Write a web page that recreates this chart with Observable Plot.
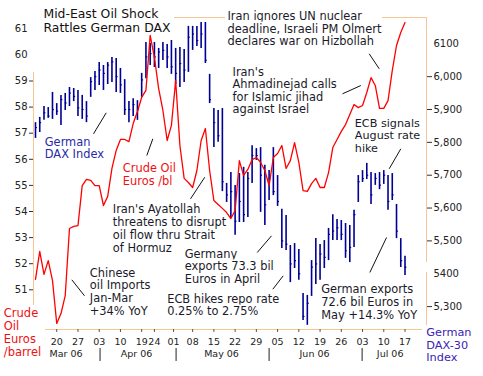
<!DOCTYPE html>
<html><head><meta charset="utf-8">
<script src="https://cdn.jsdelivr.net/npm/d3@7"></script>
<script src="https://cdn.jsdelivr.net/npm/@observablehq/plot@0.6"></script>
<style>
html,body{margin:0;padding:0;background:#fff;}
#chart svg{display:block;}
</style></head><body><div id="chart"></div>
<script>
// Trading-day index: 0 = 13 Mar 2006 ... 87 = 17 Jul 2006
const oilEuro = [
51.40,52.47,51.59,52.12,51.36,49.71,50.09,50.78,53.35,53.43,
53.46,54.99,55.23,55.19,54.99,54.99,54.23,54.58,55.65,56.34,
56.76,56.76,56.68,57.37,57.83,58.37,58.64,60.75,59.90,58.71,
57.87,56.72,57.30,59.02,56.53,55.27,55.11,54.92,55.57,56.72,
57.18,55.57,54.42,54.27,54.12,53.96,53.73,54.04,55.95,55.38,
55.61,55.99,56.07,55.88,55.57,54.99,56.07,56.22,56.53,55.65,
55.95,56.64,55.88,54.80,54.77,55.07,55.27,54.92,54.92,55.49,
56.45,56.76,57.07,57.33,57.72,58.10,57.98,58.06,58.56,59.13,
58.83,57.95,57.95,58.25,59.40,60.36,60.86,61.24];

const daxHigh = [
5860,5876,5909,5906,5952,5918,5943,5949,5967,5964,
5958,5943,5924,5997,6016,6043,6034,6043,6058,6055,
6025,5991,5924,5933,5927,6010,6104,6101,6104,6086,
6104,6098,6110,6086,6089,6083,6153,6153,6153,6165,
6165,6007,5903,5897,5903,5675,5708,5669,5705,5724,
5708,5790,5781,5784,5730,5714,5784,5699,5596,5577,
5486,5492,5474,5340,5334,5440,5507,5489,5501,5538,
5580,5565,5562,5553,5547,5593,5699,5714,5736,5708,
5705,5708,5714,5699,5705,5611,5507,5453];

const daxLow = [
5812,5830,5867,5873,5870,5882,5851,5897,5909,5924,
5879,5870,5860,5937,5958,5973,5958,5976,5982,5952,
5949,5882,5860,5879,5867,5937,5994,6034,6028,6025,
6049,6025,6007,5976,5967,5982,6013,6080,6092,6086,
6040,5918,5784,5800,5650,5617,5568,5517,5556,5556,
5571,5675,5745,5587,5547,5623,5638,5605,5477,5471,
5373,5416,5380,5258,5243,5331,5367,5380,5416,5440,
5501,5501,5501,5447,5434,5480,5617,5678,5687,5611,
5669,5656,5672,5593,5623,5507,5419,5395];

const daxClose = [
5845,5860,5890,5880,5900,5895,5930,5920,5950,5940,
5905,5900,5880,5985,6000,6020,6010,6035,6045,6000,
5975,5900,5900,5915,5900,5990,6060,6070,6060,6075,
6080,6060,6030,6010,6040,6020,6120,6130,6110,6130,
6050,5930,5860,5820,5680,5640,5650,5560,5620,5580,
5690,5760,5760,5700,5610,5690,5650,5620,5500,5490,
5430,5440,5400,5270,5310,5420,5430,5460,5450,5520,
5530,5540,5520,5470,5480,5580,5680,5690,5700,5640,
5690,5670,5700,5620,5640,5530,5440,5420];

const xTickDays   = [5,10,15,20,25,28,32.5,37,42,47,52,57,62,67,72,77,82,87];
const xTickLabels = ["20","27","03","10","19","24","01","08","15","22","29","05","12","19","26","03","10","17"];
const monthLabels  = ["Mar 06","Apr 06","May 06","Jun 06","Jul 06"];
const monthCenters = [7.2,23.8,43.8,65.7,83.5];
const monthBreaks  = [15.2,33.1,55.0,76.9];

const oilTicks      = [51,52,53,54,55,56,57,58,59,60,61];
const oilDashTicks  = [51,52,53,54,55,56,57,58,59];
const daxTicks      = [5300,5400,5500,5600,5700,5800,5900,6000,6100];
const daxTickLabels = ["5,300","5400","5,500","5,600","5,700","5,800","5,900","6,000","6100"];
const daxDashTicks  = [5300,5500,5600,5700,5800,5900,6000];

const notes = [
 {x:1.88,  y:60.896, text:"Mid-East Oil Shock\nRattles German DAX", size:12.4, lh:14, fill:"#111"},
 {x:45.21, y:60.379, text:"Iran ignores UN nuclear\ndeadline, Israeli PM Olmert\ndeclares war on Hizbollah", size:11.4, lh:12.5, fill:"#1a1a2a"},
 {x:46.39, y:57.774, text:"Iran's\nAhmadinejad calls\nfor Islamic jihad\nagainst Israel", size:11.4, lh:12.5, fill:"#1a1a2a"},
 {x:75.18, y:56.279, text:"ECB signals\nAugust rate\nhike", size:11.2, lh:12.6, fill:"#1a1a2a"},
 {x:2.19,  y:56.042, text:"German\nDAX Index", size:11.4, lh:12.7, fill:"#2a2aa8"},
 {x:20.56, y:55.023, text:"Crude Oil\nEuros /bl", size:11.4, lh:12.6, fill:"#f01010"},
 {x:18.20, y:52.448, text:"Iran's Ayatollah\nthreatens to disrupt\noil flow thru Strait\nof Hormuz", size:11.4, lh:12.9, fill:"#1a1a2a"},
 {x:35.15, y:51.279, text:"Germany\nexports 73.3 bil\nEuros in April", size:11.4, lh:12.5, fill:"#1a1a2a"},
 {x:31.01, y:50.027, text:"ECB hikes repo rate\n0.25% to 2.75%", size:11.4, lh:12.7, fill:"#1a1a2a"},
 {x:12.79, y:50.042, text:"Chinese\noil Imports\nJan-Mar\n+34% YoY", size:11.4, lh:12.7, fill:"#1a1a2a"},
 {x:67.27, y:49.889, text:"German exports\n72.6 bil Euros in\nMay +14.3% YoY", size:11.4, lh:12.8, fill:"#1a1a2a"},
 {x:-7.46, y:48.482, text:"Crude\nOil\nEuros\n/barrel", size:11.5, lh:12.8, fill:"#f01010"},
 {x:92.0,  y:48.253, text:"German\nDAX-30\nIndex", size:11.3, lh:12.5, fill:"#3b22b5"}
];

const pointers = [
 {x1:78.57,y1:60.042,x2:80.93,y2:59.467},
 {x1:72.29,y1:58.509,x2:76.60,y2:58.827},
 {x1:86.01,y1:56.402,x2:83.28,y2:55.636},
 {x1:13.66,y1:56.977,x2:16.65,y2:57.781},
 {x1:26.21,y1:56.145,x2:27.62,y2:56.785},
 {x1:36.50,y1:54.486,x2:39.86,y2:55.314},
 {x1:52.20,y1:52.429,x2:55.57,y2:53.069},
 {x1:55.88,y1:51.023,x2:58.32,y2:51.536},
 {x1:8.55, y1:51.383,x2:11.54,y2:50.770},
 {x1:78.72,y1:51.663,x2:82.65,y2:53.004}
];

// DAX mapped onto the oil (left) axis
const toOil = v => 60.425 - (6100 - v) * 0.012586;

const xMin = -0.47, xMax = 92.06, yMin = 49.479, yMax = 61.433;
const frameColor = "#f8c594";

const days = d3.range(oilEuro.length);
const bars = days.map(i => ({day: i, hi: toOil(daxHigh[i]), lo: toOil(daxLow[i]), cl: toOil(daxClose[i])}));
const oilRows = days.map(i => ({day: i, v: oilEuro[i]}));
const xTickRows = xTickDays.map((d, i) => ({day: d, label: xTickLabels[i]}));
const monthRows = monthCenters.map((d, i) => ({day: d, label: monthLabels[i]}));
const daxLabelRows = daxTicks.map((v, i) => ({y: toOil(v), label: daxTickLabels[i]}));

const noteMarks = notes.map(n => Plot.text([n], {
  x: "x", y: "y", text: "text", textAnchor: "start", lineAnchor: "bottom",
  lineHeight: n.lh / n.size, fontSize: n.size, fill: n.fill,
  stroke: "white", strokeWidth: 3, paintOrder: "stroke"
}));

const chart = Plot.plot({
  width: 483, height: 376,
  marginLeft: 33, marginRight: 57, marginTop: 17, marginBottom: 47,
  x: {domain: [xMin, xMax], axis: null, label: null},
  y: {domain: [yMin, yMax], axis: null, label: null},
  style: {fontFamily: "DejaVu Sans", background: "white", overflow: "visible"},
  marks: [
    // frame pieces
    Plot.ruleX([xMin], {y1: () => 50.398, y2: () => 59.325, stroke: frameColor}),
    Plot.ruleX([xMax], {y1: () => 52.046, y2: () => yMax, stroke: frameColor}),
    Plot.ruleX([xMax], {y1: () => 49.632, y2: () => 51.662, stroke: frameColor}),
    Plot.ruleY([yMax], {x1: () => 32.73, x2: () => 44.74, stroke: frameColor}),
    Plot.ruleY([yMax], {x1: () => 81.7, x2: () => xMax, stroke: frameColor}),
    Plot.ruleY([yMin], {x1: () => 2.35, x2: () => 91.12, stroke: frameColor}),
    // axes
    Plot.axisY({anchor: "left", ticks: oilTicks, tickSize: 0, tickPadding: 6, fontSize: 10, color: "#222", label: null}),
    Plot.axisY({anchor: "left", ticks: oilDashTicks, tickSize: 4, tickFormat: () => "", color: "#333", label: null}),
    Plot.axisY({anchor: "right", ticks: daxDashTicks.map(toOil), tickSize: 5, tickFormat: () => "", color: "#333", label: null}),
    Plot.text(daxLabelRows, {y: "y", text: "label", frameAnchor: "right", dx: 7, textAnchor: "start", fontSize: 10, fill: "#222"}),
    Plot.axisX({anchor: "bottom", ticks: xTickDays, tickSize: 3, tickFormat: () => "", color: "#555", label: null}),
    Plot.text(xTickRows, {x: "day", text: "label", frameAnchor: "bottom", dy: 15, lineAnchor: "bottom", fontSize: 9.5, fill: "#222"}),
    Plot.text(monthRows, {x: "day", text: "label", frameAnchor: "bottom", dy: 27.7, lineAnchor: "bottom", fontSize: 9.5, fill: "#222"}),
    Plot.ruleX(monthBreaks, {y1: () => 48.751, y2: () => 48.253, stroke: "#222"}),
    // data
    Plot.ruleX(bars, {x: "day", y1: "lo", y2: "hi", stroke: "#000096", strokeWidth: 1.6}),
    Plot.ruleY(bars, {y: "cl", x1: "day", x2: d => d.day + 0.45, stroke: "#000096", strokeWidth: 1.2}),
    Plot.line(oilRows, {x: "day", y: "v", stroke: "#ff0000", strokeWidth: 1.3}),
    // annotations
    Plot.link(pointers, {x1: "x1", y1: "y1", x2: "x2", y2: "y2", stroke: "#111", strokeWidth: 1}),
    ...noteMarks
  ]
});
document.getElementById("chart").append(chart);
</script>
</body></html>
